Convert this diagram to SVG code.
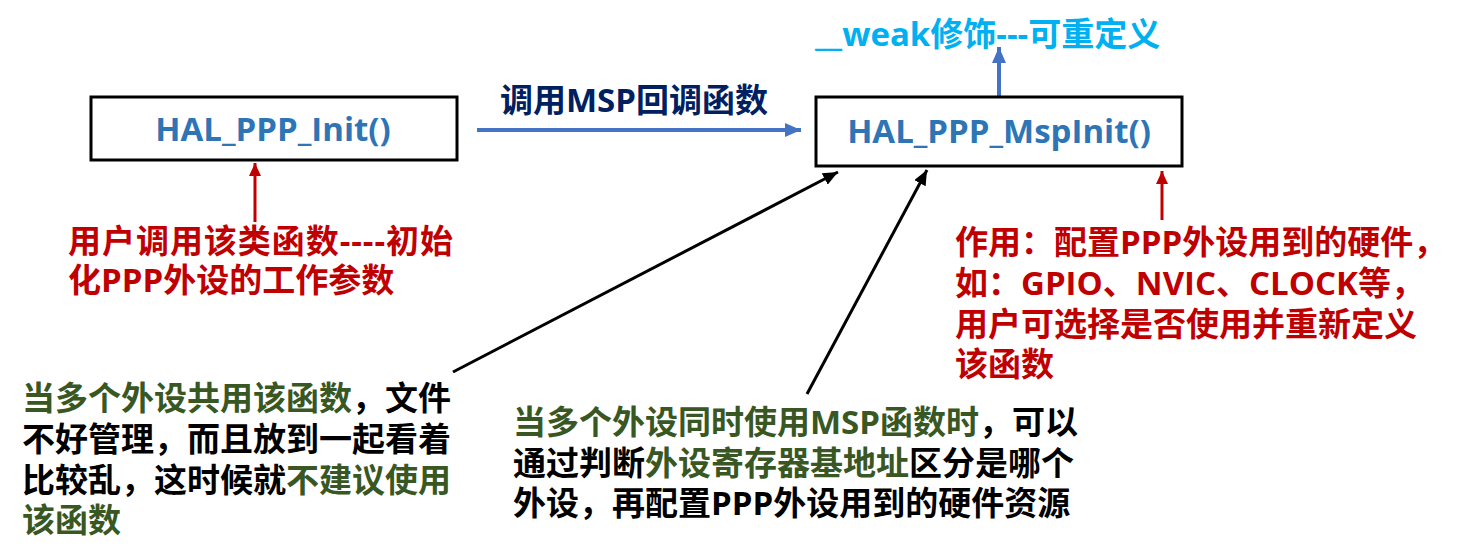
<svg xmlns="http://www.w3.org/2000/svg" width="1474" height="559" viewBox="0 0 1474 559">
<style>
text{font-family:"Open Sans","Noto Sans CJK SC",sans-serif;font-weight:bold;}
.box{fill:#fff;stroke:#000;stroke-width:3;}
.fn{fill:#2E75B6;font-size:33px;text-anchor:middle;}
.t{font-size:33px;}
.red{fill:#C00000;}
.grn{fill:#385723;}
.blk{fill:#000;}
.navy{fill:#002060;}
.cyan{fill:#00B0F0;}
</style>
<defs>
<marker id="ab" markerUnits="userSpaceOnUse" markerWidth="16" markerHeight="14" refX="16" refY="7" orient="auto"><path d="M0,0 L16,7 L0,14 z" fill="#4472C4"/></marker>
<marker id="ar" markerUnits="userSpaceOnUse" markerWidth="13" markerHeight="12" refX="13" refY="6" orient="auto"><path d="M0,0 L13,6 L0,12 z" fill="#C00000"/></marker>
<marker id="ak" markerUnits="userSpaceOnUse" markerWidth="15" markerHeight="13" refX="15" refY="6.5" orient="auto"><path d="M0,0 L15,6.5 L0,13 z" fill="#000"/></marker>
</defs>
<g id="connectors">
<line x1="477" y1="130" x2="801" y2="130" stroke="#4472C4" stroke-width="4" marker-end="url(#ab)"/>
<line x1="999" y1="97" x2="999" y2="47" stroke="#4472C4" stroke-width="4" marker-end="url(#ab)"/>
<line x1="255" y1="222" x2="255" y2="163" stroke="#C00000" stroke-width="3" marker-end="url(#ar)"/>
<line x1="1162" y1="220" x2="1162" y2="171" stroke="#C00000" stroke-width="3" marker-end="url(#ar)"/>
<line x1="453" y1="372" x2="838" y2="172" stroke="#000" stroke-width="3" marker-end="url(#ak)"/>
<line x1="807" y1="394" x2="927" y2="170" stroke="#000" stroke-width="3" marker-end="url(#ak)"/>
</g>
<g id="node-init">
<rect class="box" x="91" y="97" width="366" height="63"/>
<text class="fn" x="273" y="141">HAL_PPP_Init()</text>
</g>
<g id="node-mspinit">
<rect class="box" x="816" y="97" width="366" height="69"/>
<text class="fn" x="999" y="143">HAL_PPP_MspInit()</text>
</g>
<g id="label-call">
<text class="t navy" x="500" y="112" font-size="32">调用MSP回调函数</text>
</g>
<g id="label-weak">
<text class="t cyan" x="815" y="46">__weak修饰---可重定义</text>
</g>
<g id="note-init">
<text class="t red" x="68" y="253" textLength="385" lengthAdjust="spacing">用户调用该类函数----初始</text>
<text class="t red" x="68" y="292">化PPP外设的工作参数</text>
</g>
<g id="note-msp">
<text class="t red" x="955" y="254">作用：配置PPP外设用到的硬件，</text>
<text class="t red" x="955" y="295">如：GPIO、NVIC、CLOCK等，</text>
<text class="t red" x="955" y="336">用户可选择是否使用并重新定义</text>
<text class="t red" x="955" y="376">该函数</text>
</g>
<g id="note-shared">
<text class="t" x="22" y="410"><tspan class="grn">当多个外设共用该函数</tspan><tspan class="blk">，文件</tspan></text>
<text class="t blk" x="22" y="451">不好管理，而且放到一起看着</text>
<text class="t" x="22" y="492"><tspan class="blk">比较乱，这时候就</tspan><tspan class="grn">不建议使用</tspan></text>
<text class="t grn" x="22" y="532">该函数</text>
</g>
<g id="note-multi">
<text class="t" x="513" y="434"><tspan class="grn">当多个外设同时使用MSP函数时</tspan><tspan class="blk">，可以</tspan></text>
<text class="t" x="513" y="475"><tspan class="blk">通过判断</tspan><tspan class="grn">外设寄存器基地址</tspan><tspan class="blk">区分是哪个</tspan></text>
<text class="t blk" x="513" y="515">外设，再配置PPP外设用到的硬件资源</text>
</g>
</svg>
